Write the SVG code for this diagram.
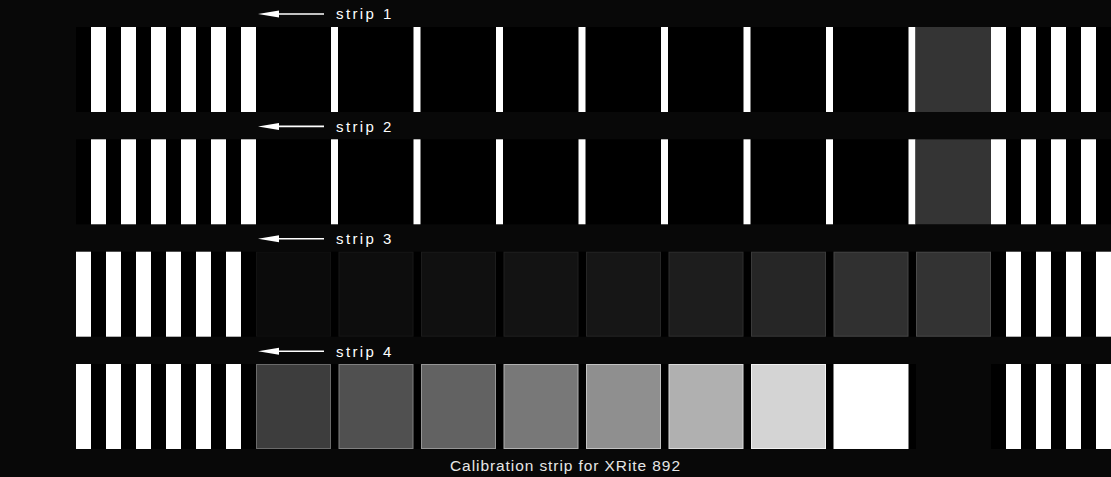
<svg xmlns="http://www.w3.org/2000/svg" xmlns:xlink="http://www.w3.org/1999/xlink" width="1111" height="477" viewBox="0 0 1111 477">
  <style>
    .band { fill: #000; }
    .bar { fill: #fff; }
    .patch { stroke-width: 1; }
    .lbl { font-family: "Liberation Sans", Arial, sans-serif; font-size: 15px; letter-spacing: 2.4px; fill: #fff; }
    .cap { font-family: "Liberation Sans", Arial, sans-serif; font-size: 15.5px; fill: #e6e6e6; }
    .arr { stroke: #fff; stroke-width: 1.6; fill: none; }
  </style>
  <defs>
    <g id="barsA">
      <rect class="bar" x="91" y="0" width="15" height="85"/>
      <rect class="bar" x="121" y="0" width="15" height="85"/>
      <rect class="bar" x="151" y="0" width="15" height="85"/>
      <rect class="bar" x="181" y="0" width="15" height="85"/>
      <rect class="bar" x="211" y="0" width="15" height="85"/>
      <rect class="bar" x="241" y="0" width="15" height="85"/>
      <rect class="bar" x="331" y="0" width="7" height="85"/>
      <rect class="bar" x="413.5" y="0" width="7" height="85"/>
      <rect class="bar" x="496" y="0" width="7" height="85"/>
      <rect class="bar" x="578.5" y="0" width="7" height="85"/>
      <rect class="bar" x="661" y="0" width="7" height="85"/>
      <rect class="bar" x="743.5" y="0" width="7" height="85"/>
      <rect class="bar" x="826" y="0" width="7" height="85"/>
      <rect class="bar" x="908.5" y="0" width="7" height="85"/>
      <rect x="915.5" y="0" width="75.5" height="85" fill="#343434"/>
      <rect class="bar" x="991" y="0" width="15" height="85"/>
      <rect class="bar" x="1021" y="0" width="15" height="85"/>
      <rect class="bar" x="1051" y="0" width="15" height="85"/>
      <rect class="bar" x="1081" y="0" width="15" height="85"/>
    </g>
    <g id="barsLeftB">
      <rect class="bar" x="76" y="0" width="15" height="85"/>
      <rect class="bar" x="106" y="0" width="15" height="85"/>
      <rect class="bar" x="136" y="0" width="15" height="85"/>
      <rect class="bar" x="166" y="0" width="15" height="85"/>
      <rect class="bar" x="196" y="0" width="15" height="85"/>
      <rect class="bar" x="226" y="0" width="15" height="85"/>
    </g>
    <g id="barsRightB">
      <rect class="bar" x="1006" y="0" width="15" height="85"/>
      <rect class="bar" x="1036" y="0" width="15" height="85"/>
      <rect class="bar" x="1066" y="0" width="15" height="85"/>
      <rect class="bar" x="1096" y="0" width="15" height="85"/>
    </g>
  </defs>

  <rect x="0" y="0" width="1111" height="477" fill="#080808"/>

  <g id="strip1" transform="translate(0,27)">
    <rect class="band" x="76" y="0" width="1035" height="85"/>
    <use xlink:href="#barsA" href="#barsA"/>
  </g>

  <g id="strip2" transform="translate(0,139.3)">
    <rect class="band" x="76" y="0" width="1035" height="85"/>
    <use xlink:href="#barsA" href="#barsA"/>
  </g>

  <g id="strip3" transform="translate(0,251.7)">
    <rect class="band" x="76" y="0" width="1035" height="85"/>
    <use xlink:href="#barsLeftB" href="#barsLeftB"/>
    <rect class="patch" x="256.5" y="0.5" width="74" height="84" fill="#0b0b0b" stroke="#121212"/>
    <rect class="patch" x="339" y="0.5" width="74" height="84" fill="#0d0d0d" stroke="#181818"/>
    <rect class="patch" x="421.5" y="0.5" width="74" height="84" fill="#101010" stroke="#1c1c1c"/>
    <rect class="patch" x="504" y="0.5" width="74" height="84" fill="#131313" stroke="#212121"/>
    <rect class="patch" x="586.5" y="0.5" width="74" height="84" fill="#161616" stroke="#262626"/>
    <rect class="patch" x="669" y="0.5" width="74" height="84" fill="#1d1d1d" stroke="#2f2f2f"/>
    <rect class="patch" x="751.5" y="0.5" width="74" height="84" fill="#262626" stroke="#3a3a3a"/>
    <rect class="patch" x="834" y="0.5" width="74" height="84" fill="#303030" stroke="#474747"/>
    <rect class="patch" x="916.5" y="0.5" width="74" height="84" fill="#333333" stroke="#4b4b4b"/>
    <use xlink:href="#barsRightB" href="#barsRightB"/>
  </g>

  <g id="strip4" transform="translate(0,364)">
    <rect class="band" x="76" y="0" width="840" height="85"/>
    <rect class="band" x="991" y="0" width="120" height="85"/>
    <use xlink:href="#barsLeftB" href="#barsLeftB"/>
    <rect class="patch" x="256.5" y="0.5" width="74" height="84" fill="#3d3d3d" stroke="#6a6a6a"/>
    <rect class="patch" x="339" y="0.5" width="74" height="84" fill="#505050" stroke="#808080"/>
    <rect class="patch" x="421.5" y="0.5" width="74" height="84" fill="#626262" stroke="#959595"/>
    <rect class="patch" x="504" y="0.5" width="74" height="84" fill="#787878" stroke="#b0b0b0"/>
    <rect class="patch" x="586.5" y="0.5" width="74" height="84" fill="#8f8f8f" stroke="#c2c2c2"/>
    <rect class="patch" x="669" y="0.5" width="74" height="84" fill="#b0b0b0" stroke="#dadada"/>
    <rect class="patch" x="751.5" y="0.5" width="74" height="84" fill="#d4d4d4" stroke="#f2f2f2"/>
    <rect class="patch" x="834" y="0.5" width="74" height="84" fill="#ffffff" stroke="#ffffff"/>
    <use xlink:href="#barsRightB" href="#barsRightB"/>
  </g>

  <g id="connectors">
    <line class="arr" x1="276" y1="14" x2="324" y2="14"/>
    <polygon points="258,14 279,10.5 279,17.5" fill="#fff"/>
    <line class="arr" x1="276" y1="126.4" x2="324" y2="126.4"/>
    <polygon points="258,126.4 279,122.9 279,129.9" fill="#fff"/>
    <line class="arr" x1="276" y1="238.8" x2="324" y2="238.8"/>
    <polygon points="258,238.8 279,235.3 279,242.3" fill="#fff"/>
    <line class="arr" x1="276" y1="351.2" x2="324" y2="351.2"/>
    <polygon points="258,351.2 279,347.7 279,354.7" fill="#fff"/>
  </g>

  <g id="labels">
    <text class="lbl" x="336" y="19.3">strip 1</text>
    <text class="lbl" x="336" y="131.7">strip 2</text>
    <text class="lbl" x="336" y="244.1">strip 3</text>
    <text class="lbl" x="336" y="356.5">strip 4</text>
    <text class="cap" x="450" y="471" textLength="230" lengthAdjust="spacing">Calibration strip for XRite 892</text>
  </g>
</svg>
